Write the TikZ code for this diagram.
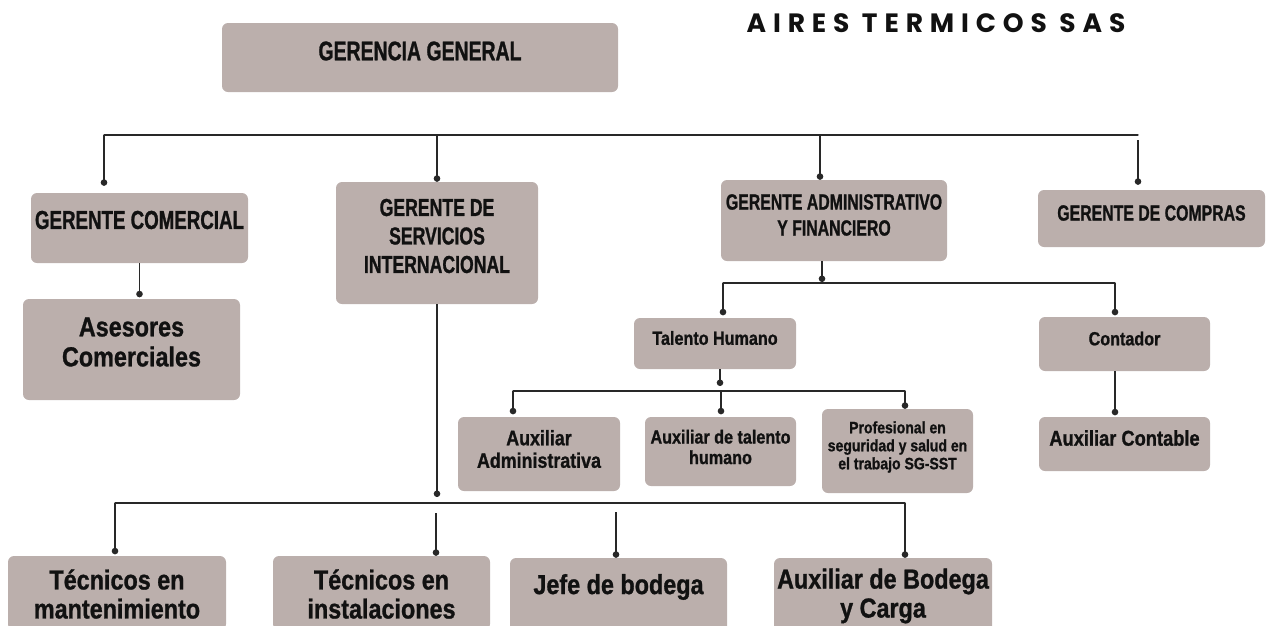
\documentclass[tikz,border=0pt]{standalone}
\usepackage{fontspec}
\usetikzlibrary{positioning, arrows.meta}
\newfontfamily\capsfont[FakeStretch=0.72,FakeBold=1]{Liberation Sans}
\newfontfamily\lowfont[FakeStretch=0.85,FakeBold=1]{Liberation Sans}
\newfontfamily\titlefont[LetterSpace=26]{Poppins}
\newcommand{\capsize}[2]{\capsfont\bfseries\fontsize{#1}{#2}\selectfont}
\newcommand{\lowsize}[2]{\lowfont\bfseries\fontsize{#1}{#2}\selectfont}
\definecolor{boxfill}{RGB}{187,175,172}
\definecolor{linec}{RGB}{40,40,40}
\definecolor{textc}{RGB}{17,17,17}

\begin{document}
\begin{tikzpicture}[x=1pt, y=-1pt,
    % Styles
    orgbox/.style={fill=boxfill, rounded corners=6pt, inner sep=1pt},
    boxtext/.style={align=center, text=textc, inner sep=1pt, yshift=#1},
    boxtext/.default=6pt,
    bus/.style={line width=1.3pt, draw=linec, line cap=round},
    link/.style={line width=1.3pt, draw=linec, -{Circle[length=6.5pt]}, shorten >=#1},
    link/.default=0pt,
]
\useasboundingbox (0,0) rectangle (1271,625);
\clip (0,0) rectangle (1271,625);

% Title
\node[font=\titlefont\bfseries\fontsize{26.5}{29}\selectfont, text=textc] (title) at (936,23) {AIRES TERMICOS SAS};

% Top level
\node[orgbox, minimum width=396pt, minimum height=69pt, label={[boxtext=6.5pt, font=\capsize{27}{30}]center:GERENCIA GENERAL}] (gerencia) at (420,57.5) {};

% Managers
\node[orgbox, minimum width=217pt, minimum height=70pt, label={[boxtext=8pt, font=\capsize{26}{29}]center:GERENTE COMERCIAL}] (comercial) at (139.5,228) {};
\node[orgbox, minimum width=202pt, minimum height=122pt, label={[boxtext=7pt, font=\capsize{24.5}{28.5}]center:GERENTE DE\\SERVICIOS\\INTERNACIONAL}] (servicios) at (437,243) {};
\node[orgbox, minimum width=226pt, minimum height=81pt, label={[boxtext=5.5pt, font=\capsize{22}{26}]center:GERENTE ADMINISTRATIVO\\Y FINANCIERO}] (administrativo) at (834,220.5) {};
\node[orgbox, minimum width=227pt, minimum height=57pt, label={[boxtext=5.5pt, font=\capsize{22}{26}]center:GERENTE DE COMPRAS}] (compras) at (1151.5,218.5) {};

% Comercial branch
\node[orgbox, minimum width=217pt, minimum height=101pt, label={[boxtext=7.5pt, font=\lowsize{27.5}{30}]center:Asesores\\Comerciales}] (asesores) at (131.5,349.5) {};

% Administrativo branch
\node[orgbox, minimum width=162pt, minimum height=51pt, label={[boxtext=5.5pt, font=\lowsize{19}{22}]center:Talento Humano}] (talento) at (715,343.5) {};
\node[orgbox, minimum width=171pt, minimum height=54pt, label={[boxtext=5.5pt, font=\lowsize{19}{22}]center:Contador}] (contador) at (1124.5,344) {};
\node[orgbox, minimum width=171pt, minimum height=54pt, label={[boxtext=6pt, font=\lowsize{21.5}{24}]center:Auxiliar Contable}] (auxcontable) at (1124.5,444) {};
\node[orgbox, minimum width=162pt, minimum height=74pt, label={[boxtext=5pt, font=\lowsize{21}{22.5}]center:Auxiliar\\Administrativa}] (auxadmin) at (539,454) {};
\node[orgbox, minimum width=151pt, minimum height=69pt, label={[boxtext=4.5pt, font=\lowsize{19}{20.5}]center:Auxiliar de talento\\humano}] (auxtalento) at (720.5,451.5) {};
\node[orgbox, minimum width=151pt, minimum height=84pt, label={[boxtext=4pt, font=\lowsize{16.5}{18}]center:Profesional en\\seguridad y salud en\\el trabajo SG-SST}] (profesional) at (897.5,451) {};

% Servicios branch
\node[orgbox, minimum width=218pt, minimum height=74pt, label={[boxtext=-1pt, font=\lowsize{27.5}{29}]center:Técnicos en\\mantenimiento}] (tecman) at (117,593) {};
\node[orgbox, minimum width=217pt, minimum height=74pt, label={[boxtext=-1pt, font=\lowsize{27.5}{29}]center:Técnicos en\\instalaciones}] (tecins) at (381.5,593) {};
\node[orgbox, minimum width=217pt, minimum height=74pt, label={[boxtext=8pt, font=\lowsize{27.5}{29}]center:Jefe de bodega}] (jefe) at (618.5,595) {};
\node[orgbox, minimum width=218pt, minimum height=74pt, label={[boxtext=-1pt, font=\lowsize{27.5}{29}]center:Auxiliar de Bodega\\y Carga}] (auxbodega) at (883,595) {};

% Top bus
\coordinate (top-left) at (104,135);
\coordinate (top-admin) at (820,135);
\coordinate (top-right) at (1138,135);
\draw[bus] (top-left) -- (top-right);
\draw[link=7pt] (top-left) -- (top-left |- comercial.north);
\draw[link] (servicios.north |- top-left) -- (servicios.north);
\draw[link] (top-admin) -- (top-admin |- administrativo.north);
\draw[link=5pt, shorten <=5pt] (top-right) -- (top-right |- compras.north);

% Comercial
\draw[link=1.5pt] (comercial.south) -- (comercial.south |- asesores.north);

% Administrativo
\coordinate (admin-hub) at (822,282);
\coordinate (admin-left) at (723,283);
\coordinate (admin-right) at (1115,283);
\draw[link] (admin-hub |- administrativo.south) -- (admin-hub);
\draw[bus] (admin-left) -- (admin-right);
\draw[link=2.5pt] (admin-left) -- (admin-left |- talento.north);
\draw[link=1.5pt] (admin-right) -- (admin-right |- contador.north);
\draw[link=1.5pt] (admin-right |- contador.south) -- (admin-right |- auxcontable.north);

% Talento humano
\coordinate (talento-hub) at (720,386);
\coordinate (talento-left) at (513,391);
\coordinate (talento-mid) at (721,391);
\coordinate (talento-right) at (905,391);
\draw[link] (talento-hub |- talento.south) -- (talento-hub);
\draw[bus] (talento-left) -- (talento-right);
\draw[link=2.5pt] (talento-left) -- (talento-left |- auxadmin.north);
\draw[link=2.5pt] (talento-mid) -- (talento-mid |- auxtalento.north);
\draw[link] (talento-right) -- (talento-right |- profesional.north);

% Servicios
\coordinate (serv-hub) at (437,497);
\coordinate (low-left) at (115,503);
\coordinate (low-inst) at (436,503);
\coordinate (low-jefe) at (616,503);
\coordinate (low-right) at (905,503);
\draw[link] (servicios.south) -- (serv-hub);
\draw[bus] (low-left) -- (low-right);
\draw[link=1.5pt] (low-left) -- (low-left |- tecman.north);
\draw[link, shorten <=10pt] (low-inst) -- (low-inst |- tecins.north);
\draw[link, shorten <=9pt] (low-jefe) -- (low-jefe |- jefe.north);
\draw[link] (low-right) -- (low-right |- auxbodega.north);

\end{tikzpicture}
\end{document}
